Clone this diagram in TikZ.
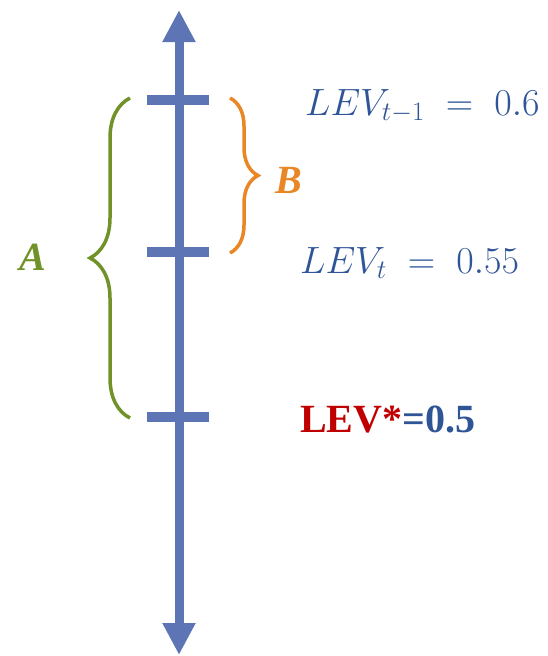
\RequirePackage{fix-cm}
\documentclass[tikz,border=0pt]{standalone}
\usepackage[no-math]{fontspec}
\usepackage{amsmath}
\usepackage{tikz}
\usetikzlibrary{arrows.meta, positioning, decorations.pathreplacing}
\newfontfamily\labelfont{Liberation Serif}
\definecolor{axisblue}{RGB}{94,117,181}
\definecolor{txtblue}{RGB}{47,85,151}
\definecolor{leafgreen}{RGB}{112,146,40}
\definecolor{braceorange}{RGB}{233,135,38}
\definecolor{levred}{RGB}{192,0,0}
\begin{document}
\begin{tikzpicture}[x=1pt, y=-1pt]
        % Styles
        \tikzstyle{axis} = [draw=axisblue, line width=9pt, {Triangle[width=31pt,length=32pt]}-{Triangle[width=31pt,length=32pt]}]
        \tikzstyle{tick} = [draw=axisblue, line width=10pt]
        \tikzstyle{bracegreen} = [draw=leafgreen, line width=3.5pt, decorate, decoration={brace, amplitude=40pt}]
        \tikzstyle{braceorange} = [draw=braceorange, line width=3.5pt, decorate, decoration={brace, amplitude=28pt}]
        \tikzstyle{value} = [anchor=base west, inner sep=0pt, text=txtblue, font=\fontsize{38}{42}\selectfont]
        \useasboundingbox (0,0) rectangle (548,656);

        % Axis
        \coordinate (top) at (179,10);
        \coordinate (bottom) at (179,655);
        \draw [axis] (bottom) -- (top);

        % Ticks
        \coordinate (prev) at (179,100);
        \coordinate (curr) at (179,252);
        \coordinate (target) at (179,417);
        \draw [tick] ([xshift=-32pt]prev) -- ([xshift=30pt]prev);
        \draw [tick] ([xshift=-32pt]curr) -- ([xshift=30pt]curr);
        \draw [tick] ([xshift=-32pt]target) -- ([xshift=30pt]target);

        % Braces
        \coordinate (gtop) at (130,98);
        \coordinate (gbot) at (130,418);
        \coordinate (otop) at (230,98);
        \coordinate (obot) at (230,253);
        \draw [bracegreen] (gbot) -- (gtop);
        \draw [braceorange] (otop) -- (obot);
        \node [text=leafgreen, font=\labelfont\fontsize{40}{44}\selectfont\bfseries\itshape] (labA) at (33,257) {A};
        \node [text=braceorange, font=\labelfont\fontsize{40}{44}\selectfont\bfseries\itshape] (labB) at (289,180) {B};

        % Values
        \node [value] (levprev) at (305,115) {$LEV_{t-1} \;=\; 0.6$};
        \node [value] (levcurr) at (300,273) {$LEV_{t} \;=\; 0.55$};
        \node [value, font=\labelfont\fontsize{40}{44}\selectfont\bfseries] (levstar) at (300,432) {\textcolor{levred}{LEV*}=0.5};
    \end{tikzpicture}
\end{document}
